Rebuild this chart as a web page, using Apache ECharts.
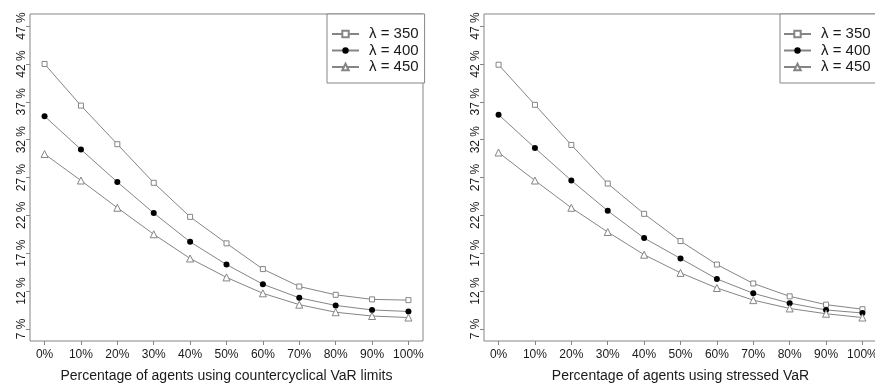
<!DOCTYPE html>
<html>
<head>
<meta charset="utf-8">
<script src="https://cdn.jsdelivr.net/npm/echarts@6/dist/echarts.min.js"></script>
<style>html,body{margin:0;padding:0;background:#fff;}#c{width:875px;height:383px;}</style>
</head>
<body>
<div id="c"></div>
<script>
var xValues = [0, 10, 20, 30, 40, 50, 60, 70, 80, 90, 100];
var yTicks = [7, 12, 17, 22, 27, 32, 37, 42, 47];
var seriesNames = ['λ = 350', 'λ = 400', 'λ = 450'];

// Left panel: countercyclical VaR limits
var left350 = [42.0, 36.5, 31.4, 26.3, 21.8, 18.3, 14.9, 12.6, 11.5, 10.9, 10.8];
var left400 = [35.1, 30.7, 26.4, 22.3, 18.5, 15.5, 12.9, 11.1, 10.1, 9.5, 9.3];
var left450 = [30.1, 26.6, 23.0, 19.5, 16.3, 13.8, 11.7, 10.2, 9.2, 8.7, 8.5];

// Right panel: stressed VaR
var right350 = [41.9, 36.6, 31.3, 26.2, 22.2, 18.6, 15.5, 13.0, 11.3, 10.2, 9.6];
var right400 = [35.3, 30.9, 26.6, 22.6, 19.0, 16.3, 13.6, 11.7, 10.4, 9.5, 9.1];
var right450 = [30.3, 26.6, 23.0, 19.8, 16.8, 14.4, 12.4, 10.8, 9.7, 9.0, 8.5];

var xTitles = ['Percentage of agents using countercyclical VaR limits', 'Percentage of agents using stressed VaR'];

var gray = '#858585';
var txt = '#1a1a1a';
var font = 'Liberation Sans, Arial, sans-serif';

function pairs(vals) { return vals.map(function (v, i) { return [xValues[i], v]; }); }

var styles = [
  { symbol: 'rect', symbolSize: 5, itemStyle: { color: '#fff', borderColor: gray, borderWidth: 1 } },
  { symbol: 'circle', symbolSize: 6, itemStyle: { color: '#000', borderColor: '#000', borderWidth: 0 } },
  { symbol: 'triangle', symbolSize: 7, itemStyle: { color: '#fff', borderColor: gray, borderWidth: 1 } }
];

var panels = [[left350, left400, left450], [right350, right400, right450]];
var series = [];
panels.forEach(function (p, pi) {
  p.forEach(function (vals, si) {
    series.push({
      type: 'line', name: seriesNames[si], xAxisIndex: pi, yAxisIndex: pi,
      data: pairs(vals), symbol: styles[si].symbol, symbolSize: styles[si].symbolSize,
      showAllSymbol: true, itemStyle: styles[si].itemStyle,
      lineStyle: { color: gray, width: 1 }, animation: false, z: 3 + si
    });
  });
});

function xAxis(i) {
  return {
    type: 'value', gridIndex: i, min: -4, max: 104,
    name: xTitles[i], nameLocation: 'middle', nameGap: 28,
    nameTextStyle: { fontFamily: font, fontSize: 14, color: txt },
    axisLine: { show: false, onZero: false },
    axisTick: { show: true, length: 4, customValues: xValues, lineStyle: { color: gray } },
    axisLabel: { customValues: xValues, formatter: '{value}%', margin: 8, fontFamily: font, fontSize: 12, color: txt },
    splitLine: { show: false }
  };
}
function yAxis(i) {
  return {
    type: 'value', gridIndex: i, min: 5.4, max: 48.6,
    axisLine: { show: false, onZero: false },
    axisTick: { show: true, length: 4, customValues: yTicks, lineStyle: { color: gray } },
    axisLabel: { customValues: yTicks, formatter: '{value} %', rotate: 90, margin: 2, lineHeight: 12, fontFamily: font, fontSize: 12, color: txt },
    splitLine: { show: false }
  };
}
function legend(left, padding) {
  return {
    data: seriesNames, orient: 'vertical', left: left, top: 14,
    padding: padding, itemGap: 1.5, itemWidth: 27, itemHeight: 8,
    borderColor: gray, borderWidth: 1, backgroundColor: '#fff',
    selectedMode: false,
    textStyle: { fontFamily: font, fontSize: 15, lineHeight: 14, color: txt, padding: [0, 0, 0, 5] }
  };
}

var gridBase = { top: 14, width: 393, height: 327, show: true, borderColor: gray, borderWidth: 1,
  backgroundColor: 'transparent', containLabel: false, outerBoundsMode: 'none' };

var chart = echarts.init(document.getElementById('c'), null, { renderer: 'canvas' });
chart.setOption({
  animation: false,
  backgroundColor: '#fff',
  grid: [
    Object.assign({ left: 30 }, gridBase),
    Object.assign({ left: 484 }, gridBase)
  ],
  xAxis: [xAxis(0), xAxis(1)],
  yAxis: [yAxis(0), yAxis(1)],
  legend: [legend(327, [12.5, 6, 8.5, 4]), legend(780, [12.5, 6, 8.5, 3])],
  series: series
});
</script>
</body>
</html>
